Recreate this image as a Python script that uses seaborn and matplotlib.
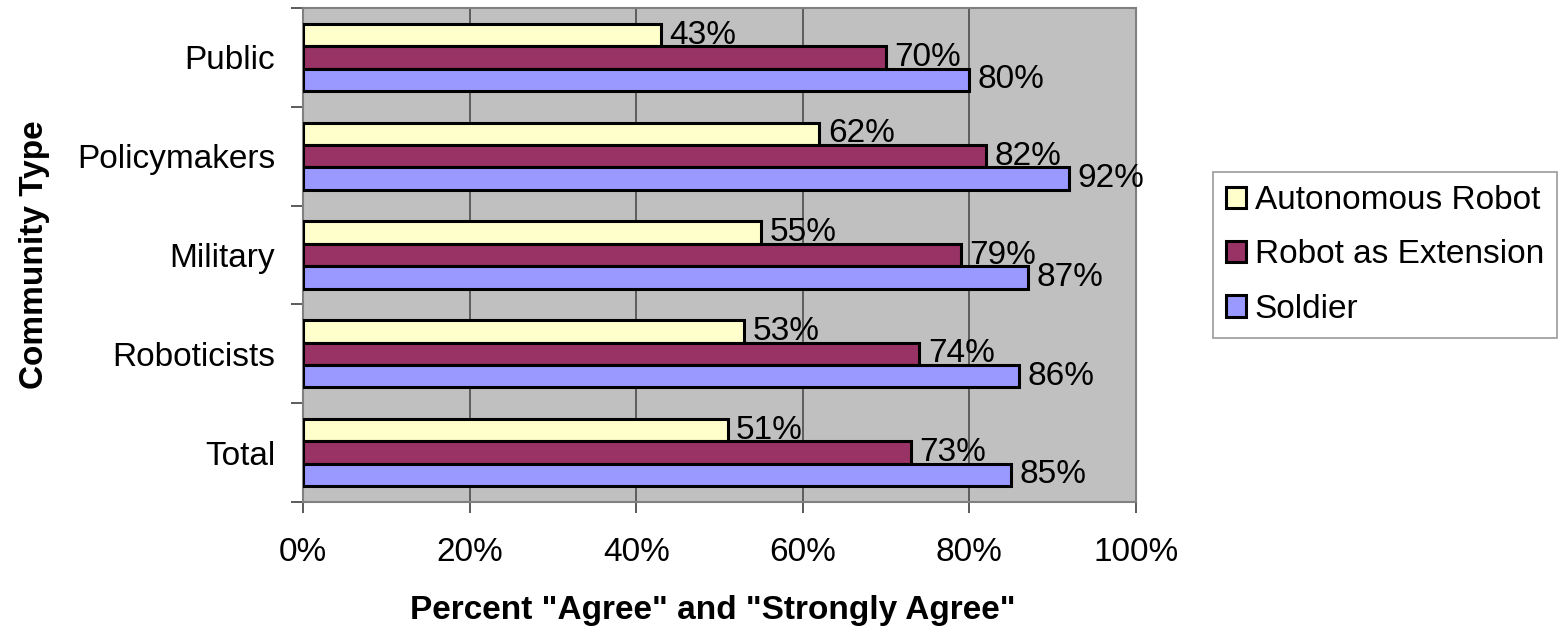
import pandas as pd
import numpy as np
import seaborn as sns
import matplotlib.pyplot as plt
from matplotlib.ticker import FixedLocator

# Data
communities = ['Public', 'Policymakers', 'Military', 'Roboticists', 'Total']
series_names = ['Autonomous Robot', 'Robot as Extension', 'Soldier']
autonomous = [43, 62, 55, 53, 51]
extension = [70, 82, 79, 74, 73]
soldier = [80, 92, 87, 86, 85]
x_ticks = [0, 20, 40, 60, 80, 100]
x_tick_labels = ['0%', '20%', '40%', '60%', '80%', '100%']

colors = {'Autonomous Robot': '#FFFFCC', 'Robot as Extension': '#993366', 'Soldier': '#9999FF'}

df = pd.DataFrame({
    'Community': communities * 3,
    'Series': [s for s in series_names for _ in communities],
    'Percent': autonomous + extension + soldier,
})

sns.set_style('white')
plt.rcParams['font.family'] = ['Liberation Sans', 'DejaVu Sans']
plt.rcParams['text.color'] = 'black'
plt.rcParams['axes.labelcolor'] = 'black'
plt.rcParams['xtick.color'] = 'black'
plt.rcParams['ytick.color'] = 'black'

fs = 24

fig = plt.figure(figsize=(15.62, 6.3), dpi=100)
ax = fig.add_axes([303 / 1562, (630 - 502) / 630, (1136 - 303) / 1562, (502 - 8) / 630])
ax.set_facecolor('#C0C0C0')

sns.barplot(data=df, y='Community', x='Percent', hue='Series', order=communities,
            hue_order=series_names, palette=colors, saturation=1, width=0.68,
            edgecolor='black', linewidth=2.2, orient='h', ax=ax, zorder=3)

for cont in ax.containers:
    vals = [b.get_width() for b in cont]
    ax.bar_label(cont, labels=[f'{v:.0f}%' for v in vals], padding=6, fontsize=fs,
                 color='black')

ax.set_xlim(0, 100)
ax.set_ylim(len(communities) - 0.5, -0.5)
ax.set_xticks(x_ticks)
ax.set_xticklabels(x_tick_labels, fontsize=fs)
ax.tick_params(axis='x', length=8, width=1.2, color='#404040', direction='out', pad=17,
               bottom=True)
ax.tick_params(axis='y', which='major', length=0, pad=20, labelsize=fs)
ax.yaxis.set_minor_locator(FixedLocator(np.arange(-0.5, len(communities), 1)))
ax.tick_params(axis='y', which='minor', length=9, width=1.2, color='#404040', left=True,
               direction='out')

ax.grid(axis='x', color='#555555', linewidth=1.3, zorder=0)
ax.set_axisbelow(True)
for side in ['top', 'right', 'left', 'bottom']:
    ax.spines[side].set_visible(True)
    ax.spines[side].set_color('#808080')
    ax.spines[side].set_linewidth(1.5)

ax.set_xlabel('Percent "Agree" and "Strongly Agree"', fontsize=fs, fontweight='bold')
ax.xaxis.set_label_coords((713 - 303) / 833, -(595 - 502) / 494)
ax.set_ylabel('Community Type', fontsize=fs, fontweight='bold')
ax.yaxis.set_label_coords((50 - 303) / 833, 0.5)

handles, labels = ax.get_legend_handles_labels()
ax.get_legend().remove()
leg = fig.legend(handles, labels, loc='center left',
                 bbox_to_anchor=(1213 / 1562, (630 - 255) / 630), fontsize=fs,
                 frameon=True, fancybox=False, edgecolor='#808080',
                 handlelength=0.6, handleheight=0.6, handletextpad=0.25,
                 labelspacing=0.7, borderpad=0.4, borderaxespad=0)
leg.get_frame().set_linewidth(1.2)

fig.savefig('out.png', dpi=100)
